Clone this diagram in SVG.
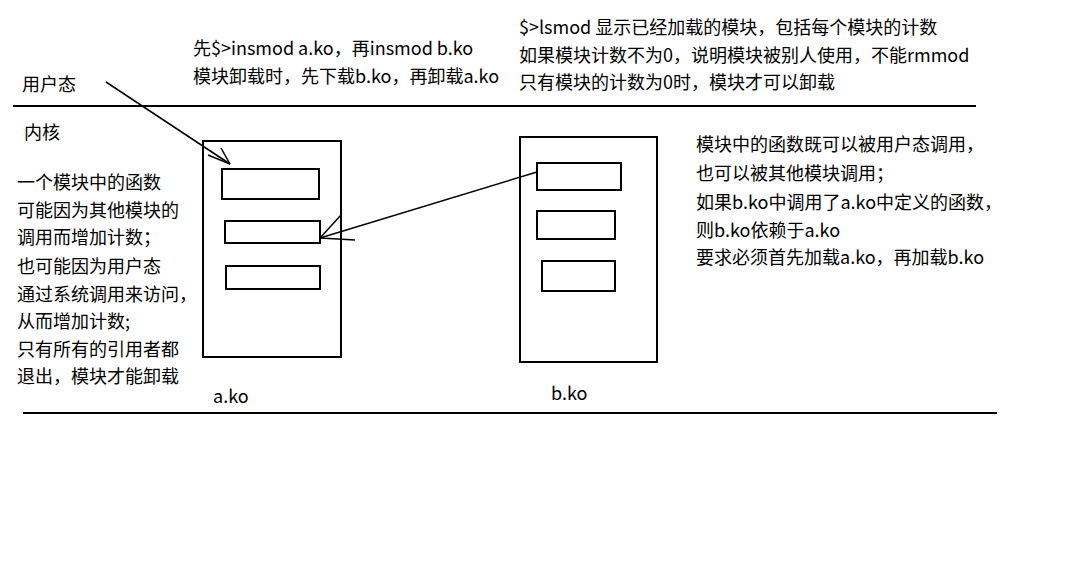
<svg xmlns="http://www.w3.org/2000/svg" width="1092" height="570" viewBox="0 0 1092 570">
<style>
.t{font-family:"Noto Sans CJK SC","Noto Sans",sans-serif;font-size:18px;fill:#000}
.box{fill:none;stroke:#000;stroke-width:2}
.ln{fill:none;stroke:#000;stroke-width:2}
.ar{fill:none;stroke:#000;stroke-width:1.5}
</style>
<rect width="1092" height="570" fill="#fff"/>
<g id="separators">
<line class="ln" x1="13" y1="106" x2="976" y2="106"/>
<line class="ln" x1="23" y1="413" x2="997" y2="413"/>
</g>
<g id="labels">
<text class="t" x="22" y="91">用户态</text>
<text class="t" x="24" y="139">内核</text>
</g>
<g id="note-insmod">
<text class="t" x="193" y="55">先$&gt;insmod a.ko，再insmod b.ko</text>
<text class="t" x="193" y="83">模块卸载时，先下载b.ko，再卸载a.ko</text>
</g>
<g id="note-lsmod">
<text class="t" x="519" y="34">$&gt;lsmod 显示已经加载的模块，包括每个模块的计数</text>
<text class="t" x="519" y="62">如果模块计数不为0，说明模块被别人使用，不能rmmod</text>
<text class="t" x="519" y="89">只有模块的计数为0时，模块才可以卸载</text>
</g>
<g id="note-left">
<text class="t" x="17" y="189">一个模块中的函数</text>
<text class="t" x="17" y="217">可能因为其他模块的</text>
<text class="t" x="17" y="244">调用而增加计数；</text>
<text class="t" x="17" y="273">也可能因为用户态</text>
<text class="t" x="17" y="301">通过系统调用来访问，</text>
<text class="t" x="17" y="328">从而增加计数;</text>
<text class="t" x="17" y="356">只有所有的引用者都</text>
<text class="t" x="17" y="383">退出，模块才能卸载</text>
</g>
<g id="note-right">
<text class="t" x="696" y="151">模块中的函数既可以被用户态调用，</text>
<text class="t" x="696" y="180">也可以被其他模块调用；</text>
<text class="t" x="696" y="209">如果b.ko中调用了a.ko中定义的函数，</text>
<text class="t" x="696" y="237">则b.ko依赖于a.ko</text>
<text class="t" x="696" y="264">要求必须首先加载a.ko，再加载b.ko</text>
</g>
<g id="a-ko">
<rect class="box" x="203" y="141" width="138" height="216"/>
<rect class="box" x="222" y="169" width="97" height="30"/>
<rect class="box" x="225" y="221" width="95" height="22"/>
<rect class="box" x="226" y="266" width="94" height="23"/>
<text class="t" x="213" y="403">a.ko</text>
</g>
<g id="b-ko">
<rect class="box" x="520" y="137" width="137" height="225"/>
<rect class="box" x="537" y="163" width="84" height="27"/>
<rect class="box" x="537" y="211" width="78" height="28"/>
<rect class="box" x="542" y="261" width="73" height="30"/>
<text class="t" x="551" y="400">b.ko</text>
</g>
<g id="connectors">
<line class="ar" x1="106" y1="82" x2="230" y2="164"/>
<line class="ar" x1="230" y1="164" x2="221" y2="148"/>
<line class="ar" x1="230" y1="164" x2="208" y2="155"/>
<line class="ar" x1="537" y1="172" x2="320" y2="238"/>
<line class="ar" x1="320" y1="238" x2="341" y2="215"/>
<line class="ar" x1="320" y1="238" x2="355" y2="240"/>
</g>
</svg>
